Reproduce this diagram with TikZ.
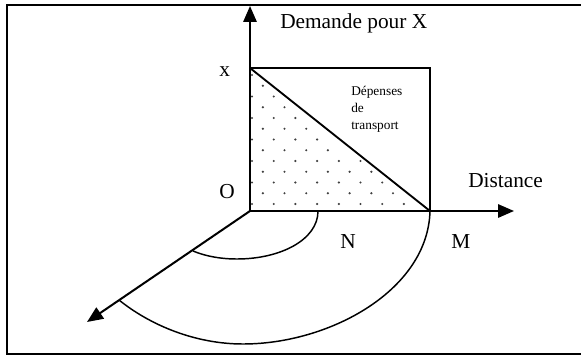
\documentclass[tikz,border=0pt]{standalone}
\usepackage{fontspec}
\setmainfont{Liberation Serif}
\usetikzlibrary{arrows.meta}
\begin{document}
\begin{tikzpicture}[x=0.75pt,y=-0.75pt,
  frameline/.style={line width=1.5pt},
  axisline/.style={line width=1.5pt,-{Triangle[length=12pt,width=10pt]}},
  thinline/.style={line width=1.1pt},
  lbl/.style={anchor=base west,font=\fontsize{16}{19}\selectfont,inner sep=0pt},
  smalllbl/.style={anchor=base west,font=\fontsize{10}{12}\selectfont,inner sep=0pt},
  dotmark/.style={fill=black!75}]
\useasboundingbox (0,0) rectangle (581,356);
% frame
\draw[frameline] (585,5) -- (7,5) -- (7,354) -- (585,354);
% points
\coordinate (O) at (250,211);
\coordinate (X) at (250,68);
\coordinate (M) at (430,211);
\coordinate (N) at (318,211);
\coordinate (C) at (430,68);
\coordinate (ytip) at (250,6);
\coordinate (xtip) at (514,211);
\coordinate (dtip) at (87,322);
\coordinate (P1) at (193,251);
\coordinate (P2) at (119,300);
% dots
\foreach \k in {0,...,12}{
  \pgfmathsetmacro{\yy}{75+10.75*\k}
  \pgfmathsetmacro{\off}{mod(12-\k,2)==0 ? 252 : 262.8}
  \pgfmathsetmacro{\xmax}{250+(\yy-68)/143*180-5}
  \foreach \j in {0,...,8}{
    \pgfmathsetmacro{\xx}{\off+21.7*\j}
    \pgfmathparse{\xx<\xmax ? 1 : 0}
    \ifnum\pgfmathresult=1
      \fill[dotmark] (\xx,\yy) circle (0.9pt);
    \fi
  }
}
% rectangle and diagonal
\draw[thinline] (X) -- (C) -- (M);
\draw[line width=1.4pt] (X) -- (M);
% axes
\draw[axisline] (O) -- (ytip);
\draw[axisline] (O) -- (xtip);
\draw[axisline] (O) -- (dtip);
% arcs
\draw[thinline] (N) .. controls (318,240) and (280,259) .. (237,259)
  .. controls (220,259) and (205,256) .. (P1);
\draw[thinline] (M) .. controls (428,290) and (330,344) .. (243,344)
  .. controls (195,344) and (150,325) .. (P2);
% labels
\node[lbl] (tdem) at (280,29) {Demande pour X};
\node[lbl] (tdist) at (468,187) {Distance};
\node[lbl] (tM) at (451,248) {M};
\node[lbl] (tN) at (340,248) {N};
\node[lbl] (tO) at (219,198) {O};
\node[lbl] (tx) at (219,77) {x};
\node[smalllbl] (td1) at (351,96) {Dépenses};
\node[smalllbl] (td2) at (351,113) {de};
\node[smalllbl] (td3) at (351,130) {transport};
\end{tikzpicture}
\end{document}
